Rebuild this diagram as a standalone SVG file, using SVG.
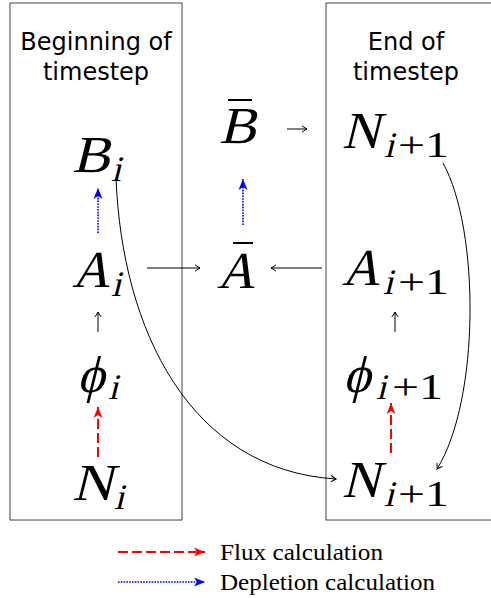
<svg xmlns="http://www.w3.org/2000/svg" width="491" height="598" viewBox="0 0 491 598">
<style>
.box{fill:none;stroke:#444;stroke-width:1}
.hdr{font-family:"DejaVu Sans",sans-serif;font-size:24px;fill:#000;text-anchor:middle}
.m{font-family:"Liberation Serif",serif;font-size:52px;fill:#000}
.s{font-family:"Liberation Serif",serif;font-size:36px;fill:#000}
.u{font-family:"Liberation Serif",serif;font-size:36px;fill:#000}
.leg{font-family:"Liberation Serif",serif;font-size:23px;fill:#000}
.blk{fill:none;stroke:#000;stroke-width:1}
.red{fill:none;stroke:#f00;stroke-width:2;stroke-dasharray:10 4}
.blue{fill:none;stroke:#00f;stroke-width:1.6;stroke-dasharray:1.6 1.2}
.bar{stroke:#000;stroke-width:2}
</style>
<defs>
<marker id="to" markerUnits="userSpaceOnUse" markerWidth="12" markerHeight="12" refX="0" refY="0" viewBox="-8 -6 10 12" orient="auto" overflow="visible">
<path d="M-5,-3.2 Q-1.5,-0.6 0,0 Q-1.5,0.6 -5,3.2" fill="none" stroke="#000" stroke-width="1"/>
</marker>
<marker id="rs" markerUnits="userSpaceOnUse" markerWidth="14" markerHeight="12" refX="0" refY="0" viewBox="-12 -6 14 12" orient="auto" overflow="visible">
<path d="M0,0 L-11,-4.5 L-8,0 L-11,4.5 Z" fill="#f00"/>
</marker>
<marker id="bs" markerUnits="userSpaceOnUse" markerWidth="14" markerHeight="12" refX="0" refY="0" viewBox="-12 -6 14 12" orient="auto" overflow="visible">
<path d="M0,0 L-11,-4.5 L-8,0 L-11,4.5 Z" fill="#00f"/>
</marker>
</defs>

<g id="box-begin">
<rect class="box" x="10" y="3" width="172" height="517"/>
<text class="hdr" x="96" y="50">Beginning of</text>
<text class="hdr" x="96" y="80">timestep</text>
</g>
<g id="box-end">
<rect class="box" x="326" y="3" width="180" height="517"/>
<text class="hdr" x="406" y="50">End of</text>
<text class="hdr" x="406" y="80">timestep</text>
</g>

<g id="node-Bi"><text class="m" transform="translate(72,172) skewX(-14)" textLength="38" lengthAdjust="spacingAndGlyphs">B</text><text class="s" transform="translate(111,181) skewX(-14)">i</text></g>
<g id="node-Ai"><text class="m" transform="translate(72,287) skewX(-14)">A</text><text class="s" transform="translate(111,296) skewX(-14)">i</text></g>
<g id="node-phii"><text class="m" transform="translate(77,392) skewX(-14)">ϕ</text><text class="s" transform="translate(108,399) skewX(-14)">i</text></g>
<g id="node-Ni"><text class="m" transform="translate(72,500) skewX(-14)" textLength="41" lengthAdjust="spacingAndGlyphs">N</text><text class="s" transform="translate(114,509) skewX(-14)">i</text></g>

<g id="node-Bbar"><line class="bar" x1="228" y1="100" x2="252" y2="100"/><text class="m" transform="translate(219,143) skewX(-14)" textLength="37" lengthAdjust="spacingAndGlyphs">B</text></g>
<g id="node-Abar"><line class="bar" x1="233" y1="243" x2="253" y2="243"/><text class="m" transform="translate(217,288) skewX(-14)">A</text></g>

<g id="node-Nip1-top"><text class="m" transform="translate(342,148) skewX(-14)">N</text><text class="s" transform="translate(384,157) skewX(-14)">i</text><text class="u" x="398" y="157" textLength="51" lengthAdjust="spacingAndGlyphs">+1</text></g>
<g id="node-Aip1"><text class="m" transform="translate(342,285) skewX(-14)">A</text><text class="s" transform="translate(383,294) skewX(-14)">i</text><text class="u" x="398" y="294" textLength="51" lengthAdjust="spacingAndGlyphs">+1</text></g>
<g id="node-phiip1"><text class="m" transform="translate(343,392) skewX(-14)">ϕ</text><text class="s" transform="translate(376,399) skewX(-14)">i</text><text class="u" x="392" y="399" textLength="51" lengthAdjust="spacingAndGlyphs">+1</text></g>
<g id="node-Nip1-bot"><text class="m" transform="translate(342,497) skewX(-14)">N</text><text class="s" transform="translate(384,506) skewX(-14)">i</text><text class="u" x="398" y="506" textLength="51" lengthAdjust="spacingAndGlyphs">+1</text></g>

<g id="connectors">
<line class="blue" x1="98" y1="233" x2="98" y2="188" marker-end="url(#bs)"/>
<line class="blue" x1="243" y1="225" x2="243" y2="179" marker-end="url(#bs)"/>
<line class="blk" x1="98" y1="332" x2="98" y2="312" marker-end="url(#to)"/>
<line class="blk" x1="395" y1="332" x2="395" y2="312" marker-end="url(#to)"/>
<line class="red" x1="98" y1="457" x2="98" y2="407" marker-end="url(#rs)"/>
<line class="red" x1="391" y1="453" x2="391" y2="403" marker-end="url(#rs)"/>
<line class="blk" x1="147" y1="268" x2="200" y2="268" marker-end="url(#to)"/>
<line class="blk" x1="322" y1="268" x2="271" y2="268" marker-end="url(#to)"/>
<line class="blk" x1="287" y1="129" x2="307" y2="129" marker-end="url(#to)"/>
<path class="blk" d="M116,178 C122,330 190,470 336,479" marker-end="url(#to)"/>
<path class="blk" d="M443,163 C480,230 480,400 437,469" marker-end="url(#to)"/>
</g>

<g id="legend">
<line class="red" x1="118" y1="552" x2="205" y2="552" marker-end="url(#rs)"/>
<text class="leg" x="220" y="560" textLength="163" lengthAdjust="spacingAndGlyphs">Flux calculation</text>
<line class="blue" x1="118" y1="582" x2="205" y2="582" marker-end="url(#bs)"/>
<text class="leg" x="220" y="590" textLength="215" lengthAdjust="spacingAndGlyphs">Depletion calculation</text>
</g>
</svg>
